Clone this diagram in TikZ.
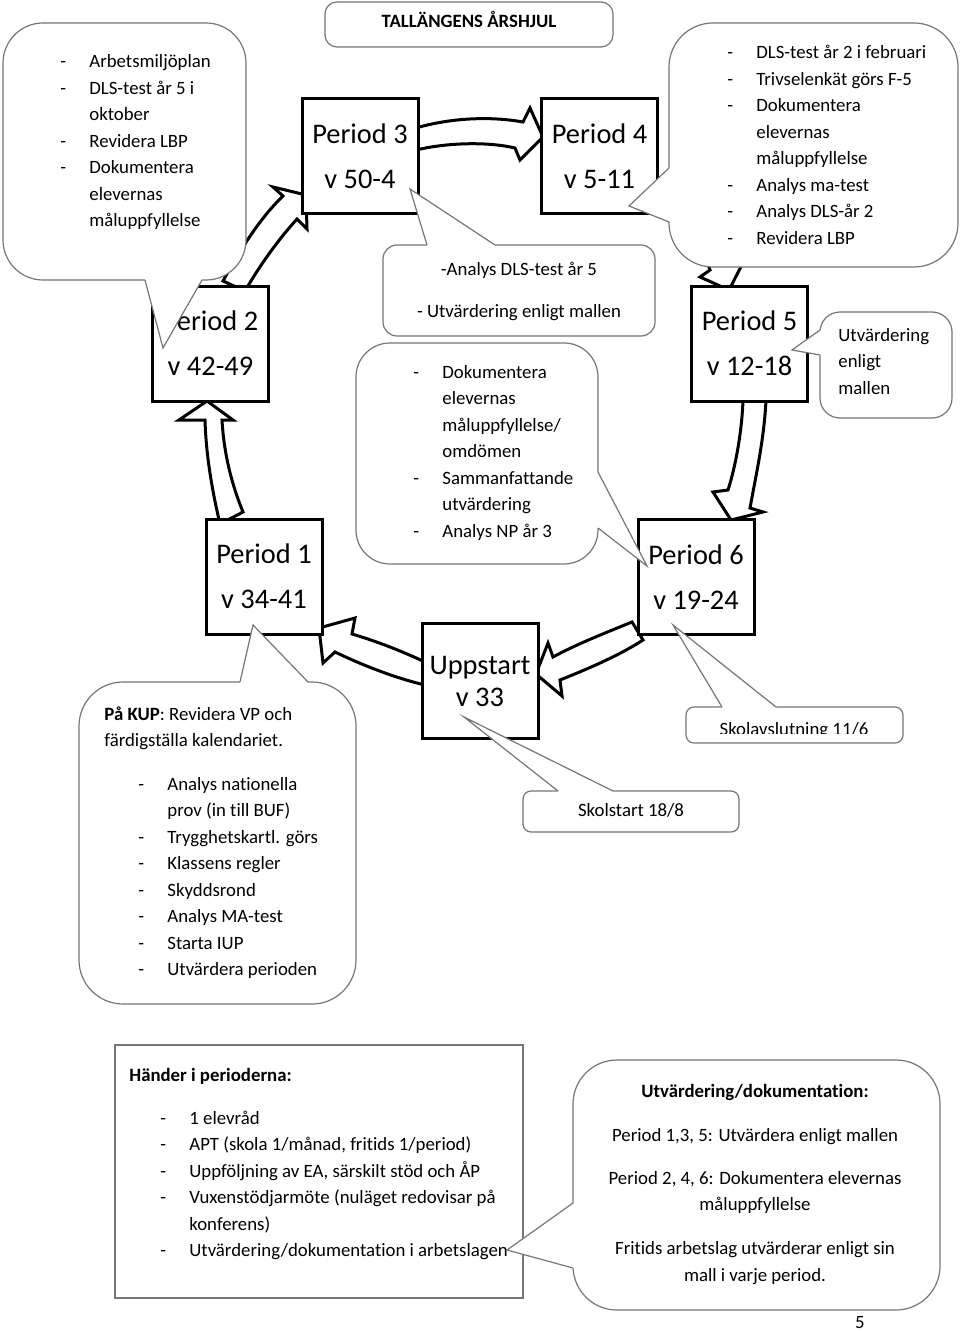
\documentclass[tikz,border=0pt]{standalone}
\usepackage{fontspec}
\setmainfont{Carlito}[Ligatures=NoCommon]
\usetikzlibrary{calc}
\definecolor{cgray}{RGB}{118,118,118}
\newcommand\dsh{\makebox[14.5pt][l]{-}}
\newcommand\ind{\hspace*{14.5pt}}
\newcommand\mlines[2][l]{\begin{tabular}[t]{@{}#1@{}}#2\end{tabular}}
\newcommand\callout[7]{%
  \filldraw[cbox, rounded corners=#3] #1 rectangle #2;
  \fill[white] #4 -- #5 -- #6 -- ($#6+#7$) -- ($#4+#7$) -- cycle;
  \draw[cline] #4 -- #5 -- #6;
}
\tikzset{
  barrow/.style={draw=black, fill=white, line width=1.5pt, line join=miter},
  pbox/.style={draw=black, fill=white, line width=1.5pt, minimum width=58pt,
    minimum height=57.5pt, inner sep=0pt, align=center,
    font=\fontsize{14.2}{22.4}\selectfont},
  cbox/.style={draw=cgray, fill=white, line width=0.6pt},
  cline/.style={draw=cgray, line width=0.6pt, line join=miter},
  txt/.style={inner sep=0pt, font=\fontsize{9.4}{13.25}\selectfont},
}
\begin{document}
\begin{tikzpicture}[x=0.5pt,y=-0.5pt]
\useasboundingbox[fill=white] (0,0) rectangle (960,1332);

% ---- block arrows of the year wheel ----
% Uppstart -> Period 1
\draw[barrow] (425,662) .. controls (395,648) and (372,640) .. (352,634) -- (355,618) -- (319,628) -- (323,663) -- (335,652) .. controls (362,665) and (395,678) .. (425,685) -- cycle;
% Period 1 -> Period 2
\draw[barrow] (220,524) .. controls (212,490) and (206,455) .. (205,420) -- (179,420) -- (207,401) -- (233,420) -- (222,420) .. controls (224,455) and (232,485) .. (243,512) -- cycle;
% Period 2 -> Period 3
\draw[barrow] (223,281) .. controls (240,250) and (260,218) .. (283,196) -- (273,187) -- (306,195) -- (307,229) -- (297,219) .. controls (278,240) and (260,265) .. (245,291) -- cycle;
% Period 3 -> Period 4
\draw[barrow] (416,128) .. controls (450,118) and (490,116) .. (523,122) -- (530,108) -- (543,137) -- (520,160) -- (515,148) .. controls (490,142) and (450,142) .. (416,150) -- cycle;
% Period 4 -> Period 5
\draw[barrow] (655,182) .. controls (695,188) and (728,220) .. (737,258) -- (747,255) -- (729,290) -- (700,277) -- (710,270) .. controls (700,240) and (680,214) .. (655,208) -- cycle;
% Period 5 -> Period 6
\draw[barrow] (743,400) .. controls (742,430) and (736,465) .. (728,490) -- (713,492) -- (731,520) -- (763,512) -- (750,508) .. controls (756,475) and (764,440) .. (766,400) -- cycle;
% Period 6 -> Uppstart
\draw[barrow] (632,622) .. controls (600,635) and (575,645) .. (553,657) -- (548,643) -- (536,674) -- (562,696) -- (560,680) .. controls (590,668) and (620,655) .. (643,640) -- cycle;

% ---- period boxes ----
\node[pbox] (p3) at (360,156.5) {Period 3\\v 50-4};
\node[pbox] (p4) at (599.5,156.5) {Period 4\\v 5-11};
\node[pbox] (p2) at (210.5,343.5) {Period 2\\v 42-49};
\node[pbox] (p5) at (749.5,343.5) {Period 5\\v 12-18};
\node[pbox] (p1) at (264,576.5) {Period 1\\v 34-41};
\node[pbox] (p6) at (696,577) {Period 6\\v 19-24};
\node[pbox, font=\fontsize{14.2}{16}\selectfont] (upp) at (480,681) {Uppstart\\v 33};

% ---- title ----
\node[draw=cgray, line width=0.6pt, rounded corners=6pt, fill=white,
  minimum width=144pt, minimum height=22.5pt, inner sep=0pt] (titlebox) at (469,24.5) {};
\node[txt, anchor=base, font=\fontsize{9.4}{13.25}\selectfont\bfseries] (title) at (469,28) {TALLÄNGENS ÅRSHJUL};

% ---- callouts ----
% top left
\callout{(3,23)}{(246,280)}{20pt}{(145,280)}{(163,348)}{(202,280)}{(0,-2.5)}
\node[txt, anchor=base west] (tltext) at (60,68) {\mlines{\dsh Arbetsmiljöplan\\ \dsh DLS-test år 5 i\\ \ind oktober\\ \dsh Revidera LBP\\ \dsh Dokumentera\\ \ind elevernas\\ \ind måluppfyllelse}};
% top right
\callout{(669,23)}{(958,267)}{22pt}{(669,168)}{(629,206)}{(669,222)}{(2.5,0)}
\node[txt, anchor=base west] (trtext) at (727,59) {\mlines{\dsh DLS-test år 2 i februari\\ \dsh Trivselenkät görs F-5\\ \dsh Dokumentera\\ \ind elevernas\\ \ind måluppfyllelse\\ \dsh Analys ma-test\\ \dsh Analys DLS-år 2\\ \dsh Revidera LBP}};
% small centre (period 3)
\callout{(383,245)}{(655,336)}{7pt}{(427,245)}{(410,189)}{(495,245)}{(0,2.5)}
\node[txt, anchor=base] (p3text) at (519,275) {\mlines[c]{-Analys DLS-test år 5\\[7.75pt] - Utvärdering enligt mallen}};
% big centre (period 6)
\callout{(356,343)}{(598,564)}{17pt}{(598,472)}{(647,566)}{(598,528)}{(-2.5,0)}
\node[txt, anchor=base west] (p6text) at (413,378) {\mlines{\dsh Dokumentera\\ \ind elevernas\\ \ind måluppfyllelse/\\ \ind omdömen\\ \dsh Sammanfattande\\ \ind utvärdering\\ \dsh Analys NP år 3}};
% period 5
\callout{(820,312)}{(952,418)}{10pt}{(820,330)}{(792,350)}{(820,355)}{(2.5,0)}
\node[txt, anchor=base west] (p5text) at (838,341) {\mlines{Utvärdering\\ enligt\\ mallen}};
% period 1 (KUP)
\callout{(79,682)}{(356,1004)}{22pt}{(240,682)}{(253,625)}{(308,682)}{(0,2.5)}
\node[txt, anchor=base west] (kuptext) at (104,720) {\mlines{\textbf{På KUP}: Revidera VP och\\ färdigställa kalendariet.}};
\node[txt, anchor=base west] (kuplist) at (138,790) {\mlines{\dsh Analys nationella\\ \ind prov (in till BUF)\\ \dsh Trygghetskartl. görs\\ \dsh Klassens regler\\ \dsh Skyddsrond\\ \dsh Analys MA-test\\ \dsh Starta IUP\\ \dsh Utvärdera perioden}};
% Skolstart
\callout{(523,791)}{(739,832)}{4pt}{(558,791)}{(464,717)}{(613,791)}{(0,2.5)}
\node[txt, anchor=base] (skolstart) at (631,816) {Skolstart 18/8};
% Skolavslutning
\callout{(686,707)}{(903,743)}{4pt}{(722,707)}{(673,625)}{(776,707)}{(0,2.5)}
\begin{scope}
  \clip (686,707) rectangle (903,733);
  \node[txt, anchor=base] (skolavsl) at (794,735) {Skolavslutning 11/6};
\end{scope}

% ---- bottom boxes ----
\draw[draw=cgray, line width=0.7pt, fill=white] (115,1045) rectangle (523,1298);
\node[txt, anchor=base west] (handhead) at (129,1081) {\textbf{Händer i perioderna:}};
\node[txt, anchor=base west] (handlist) at (160,1124) {\mlines{\dsh 1 elevråd\\ \dsh APT (skola 1/månad, fritids 1/period)\\ \dsh Uppföljning av EA, särskilt stöd och ÅP\\ \dsh Vuxenstödjarmöte (nuläget redovisar på\\ \ind konferens)\\ \dsh Utvärdering/dokumentation i arbetslagen}};
\callout{(573,1060)}{(940,1310)}{22pt}{(573,1203)}{(507,1250)}{(573,1268)}{(2.5,0)}
\node[txt, anchor=base] (utvdok) at (755,1097) {\mlines[c]{\textbf{Utvärdering/dokumentation:}\\[8.75pt] Period 1,3, 5: Utvärdera enligt mallen\\[8.25pt] Period 2, 4, 6: Dokumentera elevernas\\ måluppfyllelse\\[8.75pt] Fritids arbetslag utvärderar enligt sin\\ mall i varje period.}};

\node[txt, anchor=base] (pagenum) at (860,1328) {5};
\end{tikzpicture}
\end{document}
